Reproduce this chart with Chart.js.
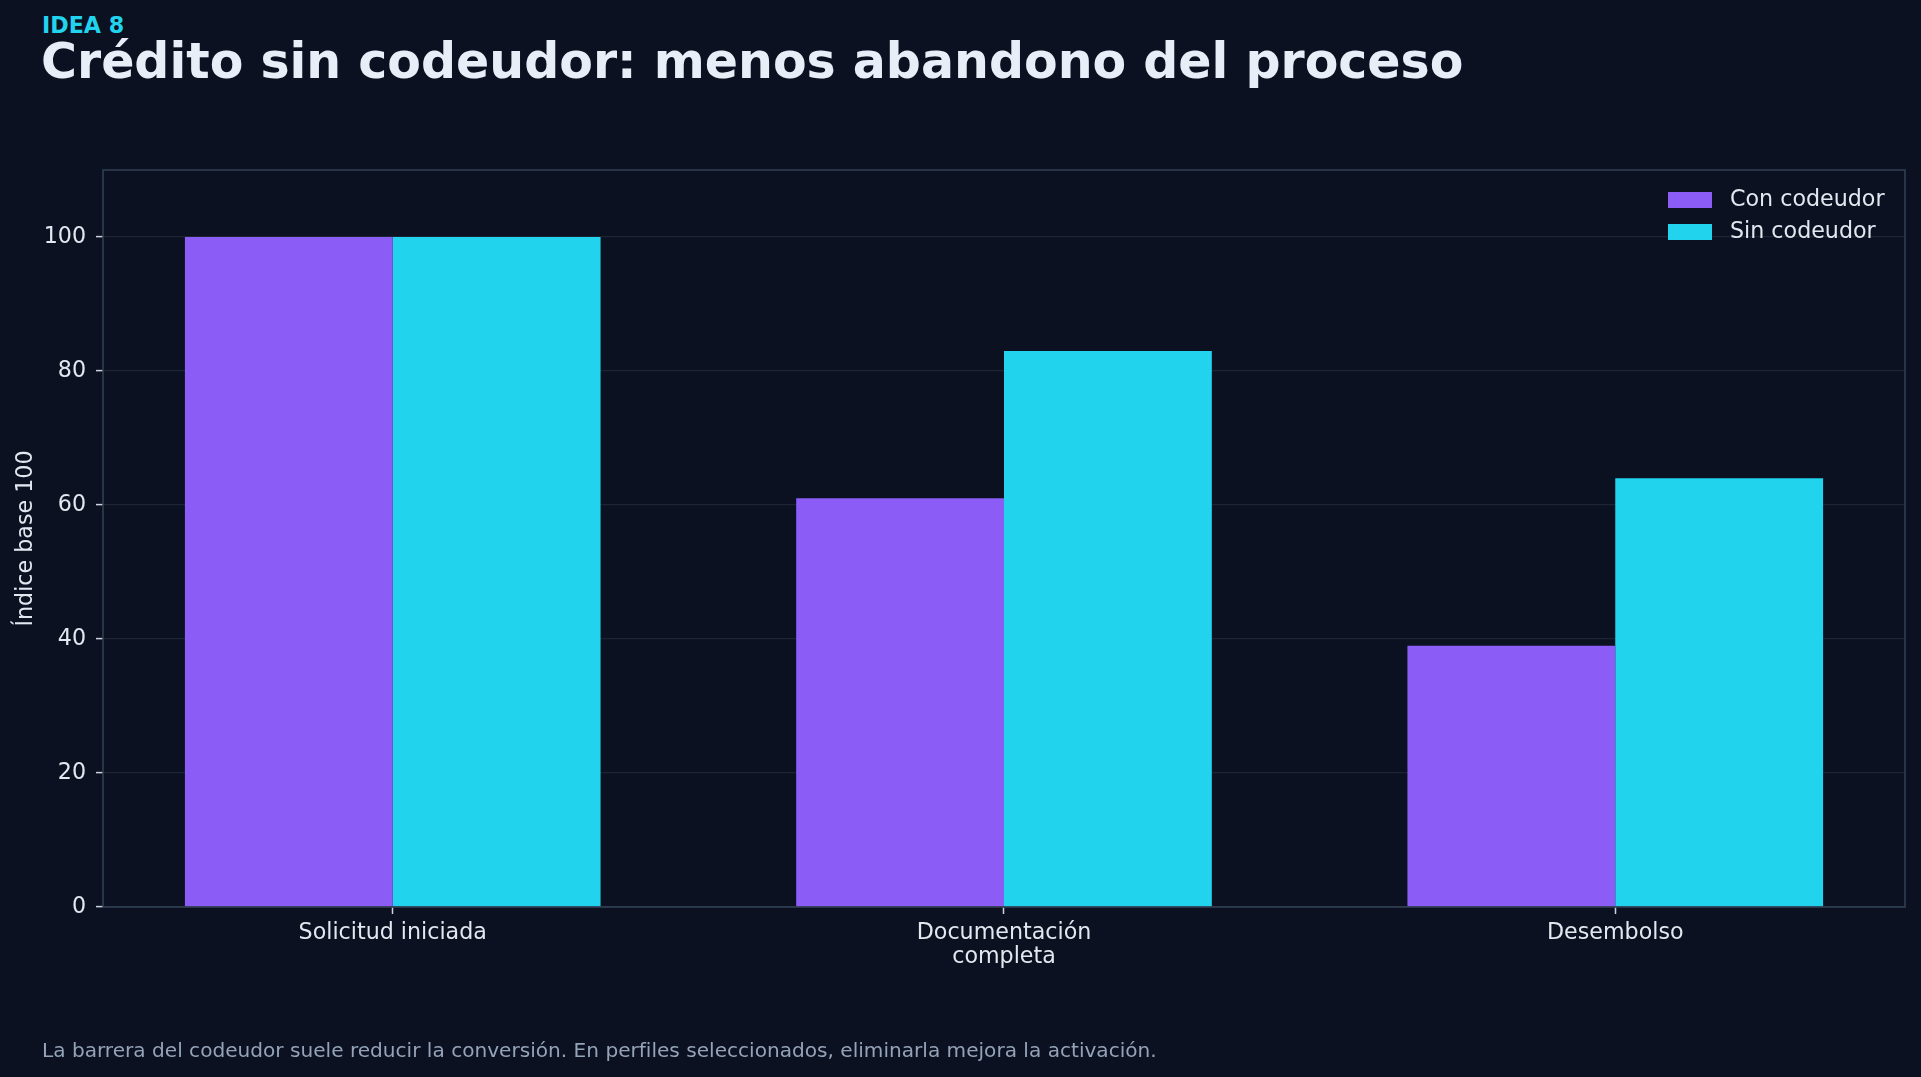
<!DOCTYPE html>
<html lang="es">
<head>
<meta charset="utf-8">
<title>Crédito sin codeudor</title>
<script src="https://cdn.jsdelivr.net/npm/chart.js@4.4.1/dist/chart.umd.min.js"></script>
<style>
  html, body { margin: 0; padding: 0; background: #0b1120; overflow: hidden; }
  body { width: 1921px; height: 1077px; position: relative; font-family: "DejaVu Sans", sans-serif; }
  #chart { position: absolute; left: 0; top: 0; }
  .kicker { position: absolute; left: 42px; top: 14px; font-size: 22.2px; line-height: 1; font-weight: bold; color: #22d3ee; white-space: nowrap; }
  .title { position: absolute; left: 41px; top: 37px; font-size: 49px; line-height: 1; font-weight: bold; color: #e8eef8; white-space: nowrap; }
  .footer { position: absolute; left: 42px; top: 1040px; font-size: 20.1px; line-height: 1; color: #94a3b8; white-space: nowrap; }
</style>
</head>
<body>
<div class="kicker">IDEA 8</div>
<div class="title">Crédito sin codeudor: menos abandono del proceso</div>
<canvas id="chart" width="1921" height="1077"></canvas>
<div class="footer">La barrera del codeudor suele reducir la conversión. En perfiles seleccionados, eliminarla mejora la activación.</div>
<script>
// ---- Data ----
const categories = ["Solicitud iniciada", "Documentación completa", "Desembolso"];
const categoryLabelLines = [["Solicitud iniciada"], ["Documentación", "completa"], ["Desembolso"]];
const seriesNames = ["Con codeudor", "Sin codeudor"];
const conCodeudor = [100, 61, 39];
const sinCodeudor = [100, 83, 64];
const yTicks = [0, 20, 40, 60, 80, 100];
const yAxisTitle = "Índice base 100";

// ---- Style ----
const COLORS = ["#8b5cf6", "#22d3ee"];
const TEXT = "#e2e8f0";
const FONT = "'DejaVu Sans', sans-serif";
const TICK_SIZE = 22.2;

const toPoints = (arr) => arr.map((v, i) => ({ x: i, y: v }));

const framePlugin = {
  id: 'frame',
  afterDatasetsDraw(chart) {
    const { ctx, chartArea: a } = chart;
    ctx.save();
    ctx.strokeStyle = '#334155';
    ctx.lineWidth = 1.5;
    ctx.strokeRect(a.left, a.top, a.right - a.left, a.bottom - a.top);
    ctx.restore();
  }
};

const legendPlugin = {
  id: 'insideLegend',
  afterDraw(chart) {
    const { ctx, chartArea: a } = chart;
    ctx.save();
    ctx.font = TICK_SIZE + "px " + FONT;
    ctx.textBaseline = 'middle';
    ctx.textAlign = 'left';
    chart.data.datasets.forEach((ds, i) => {
      const boxX = a.right - 237;
      const cy = a.top + 30 + i * 32;
      ctx.fillStyle = ds.backgroundColor;
      ctx.fillRect(boxX, cy - 8, 44, 16);
      ctx.fillStyle = TEXT;
      ctx.fillText(ds.label, boxX + 62, cy);
    });
    ctx.restore();
  }
};

new Chart(document.getElementById('chart'), {
  type: 'bar',
  data: {
    datasets: [
      { label: seriesNames[0], data: toPoints(conCodeudor), backgroundColor: COLORS[0], borderWidth: 0 },
      { label: seriesNames[1], data: toPoints(sinCodeudor), backgroundColor: COLORS[1], borderWidth: 0 }
    ]
  },
  options: {
    responsive: false,
    animation: false,
    devicePixelRatio: 1,
    layout: { padding: { top: 170, right: 16, left: 0, bottom: 0 } },
    datasets: { bar: { categoryPercentage: 0.68, barPercentage: 1.0 } },
    plugins: {
      legend: { display: false },
      title: { display: false },
      tooltip: { enabled: false }
    },
    scales: {
      x: {
        type: 'linear',
        min: -0.474,
        max: 2.474,
        offset: false,
        afterBuildTicks(scale) { scale.ticks = categories.map((_, i) => ({ value: i })); },
        afterFit(scale) { scale.height = 170; },
        ticks: {
          autoSkip: false,
          maxRotation: 0,
          minRotation: 0,
          padding: 8,
          color: TEXT,
          font: { family: FONT, size: TICK_SIZE, lineHeight: 1.05 },
          callback: (v) => categoryLabelLines[Math.round(v)] || ''
        },
        grid: { display: true, offset: false, drawOnChartArea: false, color: 'rgba(0,0,0,0)', tickColor: '#cbd5e1', tickLength: 7, tickWidth: 1.5 },
        border: { display: false }
      },
      y: {
        min: 0,
        max: 110,
        afterBuildTicks(scale) { scale.ticks = yTicks.map(v => ({ value: v })); },
        afterFit(scale) { scale.width = 103; },
        title: {
          display: true,
          text: yAxisTitle,
          color: TEXT,
          font: { family: FONT, size: TICK_SIZE },
          padding: { top: 13, bottom: 0 }
        },
        ticks: {
          padding: 10,
          color: TEXT,
          font: { family: FONT, size: TICK_SIZE }
        },
        grid: { color: '#1d2434', lineWidth: 1.2, tickColor: '#cbd5e1', tickLength: 7, tickWidth: 1.5 },
        border: { display: false }
      }
    }
  },
  plugins: [framePlugin, legendPlugin]
});
</script>
</body>
</html>
